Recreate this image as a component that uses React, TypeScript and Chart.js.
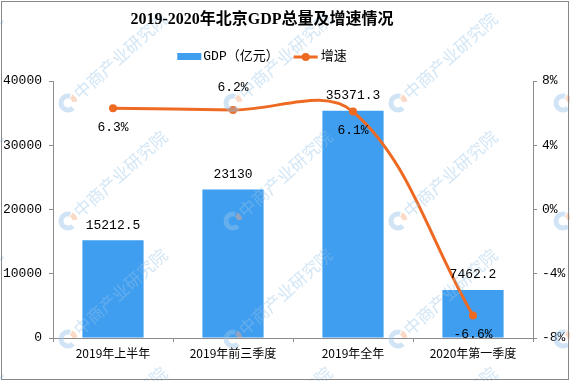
import React, { useEffect, useRef } from "react";
import { Chart, registerables } from "chart.js";

Chart.register(...registerables);

const chartTitle = "2019-2020年北京GDP总量及增速情况";
const categories = ["2019年上半年", "2019年前三季度", "2019年全年", "2020年第一季度"];
const gdpLabel = "GDP（亿元）";
const gdpValues = [15212.5, 23130, 35371.3, 7462.2];
const growthLabel = "增速";
const growthValues = [6.3, 6.2, 6.1, -6.6];
const growthLabelPlacement = ["below", "above", "below", "below"];
const leftAxisMin = 0;
const leftAxisMax = 40000;
const leftAxisStep = 10000;
const rightAxisMin = -8;
const rightAxisMax = 8;
const rightAxisStep = 4;
const watermarkText = "中商产业研究院";

const BAR_COLOR = "#3F9EF0";
const LINE_COLOR = "#EE6A22";
const AXIS_COLOR = "#8C8C8C";
const MONO = '"Liberation Mono", "Noto Sans CJK SC", monospace';
const CJK = '"Noto Sans CJK SC", sans-serif';

const headerPlugin = {
  id: "header",
  afterDraw(chart: any) {
    const ctx = chart.ctx;
    ctx.save();
    const cx = 262;
    ctx.fillStyle = "#000";
    ctx.textAlign = "center";
    ctx.textBaseline = "middle";
    ctx.font = 'bold 16px "Liberation Serif", "Noto Sans CJK SC", serif';
    ctx.fillText(chartTitle, cx, 20);

    // legend
    ctx.font = `13px ${MONO}`;
    const t1 = ctx.measureText(gdpLabel).width;
    const t2 = ctx.measureText(growthLabel).width;
    const sw = 24;
    const total = sw + 2 + t1 + 15 + sw + 3 + t2;
    let x = cx - total / 2;
    const y = 57;
    ctx.fillStyle = BAR_COLOR;
    ctx.fillRect(x, y - 4, sw, 7);
    x += sw + 2;
    ctx.fillStyle = "#000";
    ctx.textAlign = "left";
    ctx.fillText(gdpLabel, x, y);
    x += t1 + 15;
    ctx.strokeStyle = LINE_COLOR;
    ctx.lineWidth = 3;
    ctx.beginPath();
    ctx.moveTo(x, y);
    ctx.lineTo(x + sw, y);
    ctx.stroke();
    ctx.fillStyle = LINE_COLOR;
    ctx.beginPath();
    ctx.arc(x + sw / 2, y, 4, 0, Math.PI * 2);
    ctx.fill();
    x += sw + 3;
    ctx.fillStyle = "#000";
    ctx.fillText(growthLabel, x, y);
    ctx.restore();
  },
};

const watermarkPlugin = {
  id: "watermark",
  afterDatasetsDraw(chart: any) {
    const ctx = chart.ctx;
    ctx.save();
    const ang = (-42 * Math.PI) / 180;
    for (let i = -1; i <= 3; i++) {
      for (let j = -1; j <= 3; j++) {
        const lx = 68 + 165 * i;
        const ly = 103 + 118 * j;
        ctx.save();
        ctx.translate(lx, ly);
        // logo
        ctx.lineWidth = 5;
        ctx.strokeStyle = "rgba(150, 195, 232, 0.45)";
        ctx.beginPath();
        ctx.arc(0, 0, 7, Math.PI * 0.25, Math.PI * 1.6);
        ctx.stroke();
        ctx.strokeStyle = "rgba(245, 170, 130, 0.45)";
        ctx.beginPath();
        ctx.arc(0, 0, 7, Math.PI * 1.65, Math.PI * 1.95);
        ctx.stroke();
        ctx.rotate(ang);
        ctx.font = `17px ${CJK}`;
        ctx.fillStyle = "rgba(150, 195, 232, 0.42)";
        ctx.textAlign = "left";
        ctx.textBaseline = "middle";
        ctx.fillText(watermarkText, 11, 0);
        ctx.restore();
      }
    }
    ctx.restore();
  },
};

const dataLabelPlugin = {
  id: "dataLabels",
  afterDatasetsDraw(chart: any) {
    const ctx = chart.ctx;
    ctx.save();
    ctx.font = `13px ${MONO}`;
    ctx.fillStyle = "#000";
    ctx.textAlign = "center";
    ctx.textBaseline = "middle";
    const barMeta = chart.getDatasetMeta(0);
    barMeta.data.forEach((el: any, i: number) => {
      ctx.fillText(String(gdpValues[i]), el.x, el.y - 15);
    });
    const lineMeta = chart.getDatasetMeta(1);
    lineMeta.data.forEach((el: any, i: number) => {
      const off = growthLabelPlacement[i] === "above" ? -22 : 19;
      ctx.fillText(growthValues[i].toFixed(1) + "%", el.x, el.y + off);
    });
    ctx.restore();
  },
};

export default function App() {
  const canvasRef = useRef<HTMLCanvasElement | null>(null);

  useEffect(() => {
    if (!canvasRef.current) return;
    const chart = new Chart(canvasRef.current, {
      type: "bar",
      data: {
        labels: categories,
        datasets: [
          {
            type: "bar",
            label: gdpLabel,
            data: gdpValues,
            backgroundColor: BAR_COLOR,
            yAxisID: "y",
            order: 1,
            barPercentage: 0.51,
            categoryPercentage: 1,
          },
          {
            type: "line",
            label: growthLabel,
            data: growthValues,
            borderColor: LINE_COLOR,
            backgroundColor: LINE_COLOR,
            borderWidth: 3,
            pointRadius: 4,
            pointBorderWidth: 0,
            pointBackgroundColor: LINE_COLOR,
            tension: 0.36,
            yAxisID: "y1",
            order: 0,
          } as any,
        ],
      },
      options: {
        responsive: false,
        animation: false,
        devicePixelRatio: 1,
        layout: { padding: { top: 81, left: 0, right: 0, bottom: 0 } },
        plugins: {
          legend: { display: false },
          title: { display: false },
          tooltip: { enabled: false },
        },
        scales: {
          x: {
            type: "category",
            grid: {
              display: true,
              drawOnChartArea: false,
              drawTicks: true,
              tickLength: 4,
              color: AXIS_COLOR,
              offset: true,
            },
            border: { display: true, color: AXIS_COLOR },
            ticks: { font: { family: CJK, size: 12 }, color: "#000", padding: 4, maxRotation: 0, autoSkip: false },
            afterFit: (s: any) => {
              s.height = 43;
            },
          },
          y: {
            type: "linear",
            position: "left",
            min: leftAxisMin,
            max: leftAxisMax,
            grid: { drawOnChartArea: false, tickLength: 4, color: AXIS_COLOR },
            border: { display: true, color: AXIS_COLOR },
            ticks: {
              stepSize: leftAxisStep,
              font: { family: MONO, size: 13 },
              color: "#000",
              padding: 7,
              callback: (v: any) => String(v),
            },
            afterFit: (s: any) => {
              s.width = 53;
            },
          },
          y1: {
            type: "linear",
            position: "right",
            min: rightAxisMin,
            max: rightAxisMax,
            grid: { drawOnChartArea: false, tickLength: 4, color: AXIS_COLOR },
            border: { display: true, color: AXIS_COLOR },
            ticks: {
              stepSize: rightAxisStep,
              font: { family: MONO, size: 13 },
              color: "#000",
              padding: 5,
              callback: (v: any) => v + "%",
            },
            afterFit: (s: any) => {
              s.width = 37;
            },
          },
        },
      },
      plugins: [watermarkPlugin, dataLabelPlugin, headerPlugin],
    });
    return () => chart.destroy();
  }, []);

  return (
    <div style={{ position: "fixed", left: 0, top: 0, width: 570, height: 381, background: "#fff" }}>
      <canvas ref={canvasRef} width={570} height={381} style={{ display: "block" }} />
      <div
        style={{
          position: "absolute",
          left: 1,
          top: 1,
          width: 568,
          height: 379,
          boxSizing: "border-box",
          border: "1px solid #888",
          pointerEvents: "none",
        }}
      />
    </div>
  );
}
